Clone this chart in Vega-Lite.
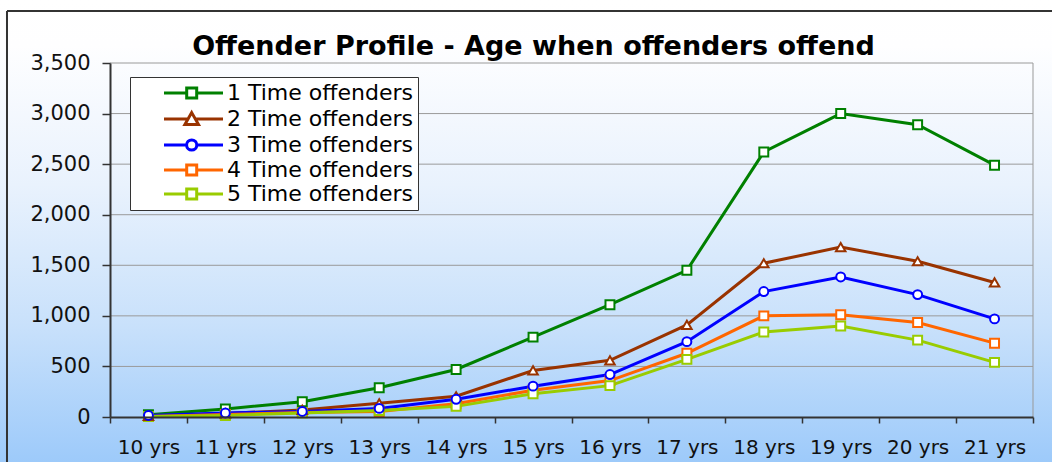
{
  "$schema": "https://vega.github.io/schema/vega-lite/v6.json",
  "width": 923,
  "height": 354,
  "autosize": {"type": "none"},
  "padding": {"left": 110, "top": 63, "right": 19, "bottom": 45},
  "background": "#FFFFFF",
  "title": {"text": "Offender Profile - Age when offenders offend", "font": "DejaVu Sans", "fontWeight": "bold", "fontSize": 27, "color": "#000000", "anchor": "middle", "dx": -38, "offset": -83, "baseline": "alphabetic"},
  "resolve": {"scale": {"x": "independent", "y": "independent", "color": "independent", "shape": "independent"}},
  "layer": [
    {
      "data": {"values": [{}]},
      "layer": [
        {
          "mark": {"type": "rect", "fill": {"gradient": "linear", "x1": 0, "y1": 0, "x2": 0, "y2": 1, "stops": [{"offset": 0, "color": "#FFFFFF"}, {"offset": 0.1, "color": "#FEFEFF"}, {"offset": 0.4, "color": "#E9F2FD"}, {"offset": 0.7, "color": "#C9E1FB"}, {"offset": 1, "color": "#9DCAFA"}]}, "strokeWidth": 0},
          "encoding": {
            "x": {"datum": -0.1192, "type": "quantitative", "scale": {"domain": [0, 1], "nice": false, "zero": false}, "axis": null},
            "x2": {"datum": 1.0206},
            "y": {"datum": 4130, "type": "quantitative", "scale": {"domain": [0, 3500], "nice": false}, "axis": null},
            "y2": {"datum": -450}
          }
        },
        {
          "mark": {"type": "rule", "color": "#999999", "strokeWidth": 1},
          "encoding": {
            "x": {"datum": 1, "type": "quantitative", "scale": {"domain": [0, 1], "nice": false, "zero": false}, "axis": null},
            "y": {"datum": 3500, "type": "quantitative", "scale": {"domain": [0, 3500], "nice": false}, "axis": null},
            "y2": {"datum": 0}
          }
        },
        {
          "mark": {"type": "rule", "color": "#333333", "strokeWidth": 2},
          "encoding": {
            "x": {"datum": -0.1116, "type": "quantitative", "scale": {"domain": [0, 1], "nice": false, "zero": false}, "axis": null},
            "y": {"datum": 4014, "type": "quantitative", "scale": {"domain": [0, 3500], "nice": false}, "axis": null},
            "y2": {"datum": -450}
          }
        },
        {
          "mark": {"type": "rule", "color": "#333333", "strokeWidth": 2},
          "encoding": {
            "x": {"datum": -0.1116, "type": "quantitative", "scale": {"domain": [0, 1], "nice": false, "zero": false}, "axis": null},
            "x2": {"datum": 1.03},
            "y": {"datum": 4014, "type": "quantitative", "scale": {"domain": [0, 3500], "nice": false}, "axis": null}
          }
        }
      ]
    },
    {
      "data": {"values": [{"grid": 500}, {"grid": 1000}, {"grid": 1500}, {"grid": 2000}, {"grid": 2500}, {"grid": 3000}, {"grid": 3500}]},
      "mark": {"type": "rule", "color": "#9A9A9A", "strokeWidth": 1},
      "encoding": {
        "y": {"field": "grid", "type": "quantitative", "scale": {"domain": [0, 3500], "nice": false}, "axis": null}
      }
    },
    {
      "data": {"values": [
        {"age": "10 yrs", "series": "1 Time offenders", "value": 22},
        {"age": "11 yrs", "series": "1 Time offenders", "value": 80},
        {"age": "12 yrs", "series": "1 Time offenders", "value": 150},
        {"age": "13 yrs", "series": "1 Time offenders", "value": 290},
        {"age": "14 yrs", "series": "1 Time offenders", "value": 470},
        {"age": "15 yrs", "series": "1 Time offenders", "value": 790},
        {"age": "16 yrs", "series": "1 Time offenders", "value": 1110},
        {"age": "17 yrs", "series": "1 Time offenders", "value": 1450},
        {"age": "18 yrs", "series": "1 Time offenders", "value": 2620},
        {"age": "19 yrs", "series": "1 Time offenders", "value": 3000},
        {"age": "20 yrs", "series": "1 Time offenders", "value": 2890},
        {"age": "21 yrs", "series": "1 Time offenders", "value": 2490},
        {"age": "10 yrs", "series": "2 Time offenders", "value": 10},
        {"age": "11 yrs", "series": "2 Time offenders", "value": 35},
        {"age": "12 yrs", "series": "2 Time offenders", "value": 70},
        {"age": "13 yrs", "series": "2 Time offenders", "value": 135},
        {"age": "14 yrs", "series": "2 Time offenders", "value": 205},
        {"age": "15 yrs", "series": "2 Time offenders", "value": 460},
        {"age": "16 yrs", "series": "2 Time offenders", "value": 560},
        {"age": "17 yrs", "series": "2 Time offenders", "value": 910},
        {"age": "18 yrs", "series": "2 Time offenders", "value": 1520},
        {"age": "19 yrs", "series": "2 Time offenders", "value": 1680},
        {"age": "20 yrs", "series": "2 Time offenders", "value": 1540},
        {"age": "21 yrs", "series": "2 Time offenders", "value": 1330},
        {"age": "10 yrs", "series": "3 Time offenders", "value": 15},
        {"age": "11 yrs", "series": "3 Time offenders", "value": 40},
        {"age": "12 yrs", "series": "3 Time offenders", "value": 55},
        {"age": "13 yrs", "series": "3 Time offenders", "value": 85},
        {"age": "14 yrs", "series": "3 Time offenders", "value": 175},
        {"age": "15 yrs", "series": "3 Time offenders", "value": 305},
        {"age": "16 yrs", "series": "3 Time offenders", "value": 420},
        {"age": "17 yrs", "series": "3 Time offenders", "value": 745},
        {"age": "18 yrs", "series": "3 Time offenders", "value": 1240},
        {"age": "19 yrs", "series": "3 Time offenders", "value": 1385},
        {"age": "20 yrs", "series": "3 Time offenders", "value": 1210},
        {"age": "21 yrs", "series": "3 Time offenders", "value": 970},
        {"age": "10 yrs", "series": "4 Time offenders", "value": 5},
        {"age": "11 yrs", "series": "4 Time offenders", "value": 25},
        {"age": "12 yrs", "series": "4 Time offenders", "value": 45},
        {"age": "13 yrs", "series": "4 Time offenders", "value": 55},
        {"age": "14 yrs", "series": "4 Time offenders", "value": 130},
        {"age": "15 yrs", "series": "4 Time offenders", "value": 265},
        {"age": "16 yrs", "series": "4 Time offenders", "value": 360},
        {"age": "17 yrs", "series": "4 Time offenders", "value": 630},
        {"age": "18 yrs", "series": "4 Time offenders", "value": 1000},
        {"age": "19 yrs", "series": "4 Time offenders", "value": 1010},
        {"age": "20 yrs", "series": "4 Time offenders", "value": 935},
        {"age": "21 yrs", "series": "4 Time offenders", "value": 730},
        {"age": "10 yrs", "series": "5 Time offenders", "value": 5},
        {"age": "11 yrs", "series": "5 Time offenders", "value": 15},
        {"age": "12 yrs", "series": "5 Time offenders", "value": 40},
        {"age": "13 yrs", "series": "5 Time offenders", "value": 65},
        {"age": "14 yrs", "series": "5 Time offenders", "value": 105},
        {"age": "15 yrs", "series": "5 Time offenders", "value": 230},
        {"age": "16 yrs", "series": "5 Time offenders", "value": 310},
        {"age": "17 yrs", "series": "5 Time offenders", "value": 570},
        {"age": "18 yrs", "series": "5 Time offenders", "value": 840},
        {"age": "19 yrs", "series": "5 Time offenders", "value": 900},
        {"age": "20 yrs", "series": "5 Time offenders", "value": 760},
        {"age": "21 yrs", "series": "5 Time offenders", "value": 540}
      ]},
      "encoding": {
        "x": {"field": "age", "type": "ordinal", "sort": null,
          "scale": {"type": "band", "paddingInner": 0, "paddingOuter": 0},
          "axis": {"title": null, "tickBand": "extent", "grid": false, "labelAngle": 0, "zindex": 1, "domainColor": "#333333", "domainWidth": 2, "tickColor": "#333333", "tickWidth": 1.5, "tickSize": 6, "labelPadding": 14, "labelFont": "DejaVu Sans", "labelFontSize": 20, "labelColor": "#111111"}},
        "y": {"field": "value", "type": "quantitative",
          "scale": {"domain": [0, 3500], "nice": false},
          "axis": {"title": null, "values": [0, 500, 1000, 1500, 2000, 2500, 3000, 3500], "format": ",.0f", "grid": false, "zindex": 1, "domainColor": "#333333", "domainWidth": 2, "tickColor": "#333333", "tickWidth": 1.5, "tickSize": 8, "labelPadding": 12, "labelFont": "DejaVu Sans", "labelFontSize": 21, "labelColor": "#111111"}},
        "color": {"field": "series", "type": "nominal", "title": null,
          "scale": {"domain": ["1 Time offenders", "2 Time offenders", "3 Time offenders", "4 Time offenders", "5 Time offenders"], "range": ["#008000", "#993300", "#0000FF", "#FF6600", "#99CC00"]}}
      },
      "layer": [
        {
          "mark": {"type": "line", "strokeWidth": 3}
        },
        {
          "mark": {"type": "point", "filled": false, "fill": "#FFFFFF", "strokeWidth": 3, "opacity": 0},
          "encoding": {
            "shape": {"field": "series", "type": "nominal", "title": null,
              "scale": {"domain": ["1 Time offenders", "2 Time offenders", "3 Time offenders", "4 Time offenders", "5 Time offenders"], "range": ["M2.118,0H4.788M5.964,0H9.059M4.788,-0.588H5.964V0.588H4.788Z", "M2.118,0H4.95M5.8,0H9.059M5.376,-0.75L6.176,0.65H4.576Z", "M2.118,0H4.776M5.976,0H9.059M4.776,0A0.6,0.6,0,1,0,5.976,0A0.6,0.6,0,1,0,4.776,0Z", "M2.118,0H4.788M5.964,0H9.059M4.788,-0.588H5.964V0.588H4.788Z", "M2.118,0H4.788M5.964,0H9.059M4.788,-0.588H5.964V0.588H4.788Z"]}}
          }
        },
        {
          "transform": [{"filter": "datum.series !== '2 Time offenders' && datum.series !== '3 Time offenders'"}],
          "mark": {"type": "point", "shape": "square", "filled": false, "fill": "#FFFFFF", "strokeWidth": 2, "size": 80, "opacity": 1}
        },
        {
          "transform": [{"filter": "datum.series === '2 Time offenders'"}],
          "mark": {"type": "point", "shape": "triangle-up", "filled": false, "fill": "#FFFFFF", "strokeWidth": 2, "size": 90, "opacity": 1}
        },
        {
          "transform": [{"filter": "datum.series === '3 Time offenders'"}],
          "mark": {"type": "point", "shape": "circle", "filled": false, "fill": "#FFFFFF", "strokeWidth": 2, "size": 80, "opacity": 1}
        }
      ]
    }
  ],
  "config": {
    "view": {"stroke": null},
    "axis": {"zindex": 1},
    "legend": {"zindex": 1, "orient": "none", "legendX": 20, "legendY": 14, "fillColor": "#FFFFFF", "strokeColor": "#333333", "padding": 5, "symbolSize": 289, "symbolStrokeWidth": 3, "symbolOpacity": 1, "symbolFillColor": "#FFFFFF", "labelFont": "DejaVu Sans", "labelFontSize": 22, "labelColor": "#000000", "labelOffset": 70, "labelLimit": 400, "rowPadding": 2}
  }
}
